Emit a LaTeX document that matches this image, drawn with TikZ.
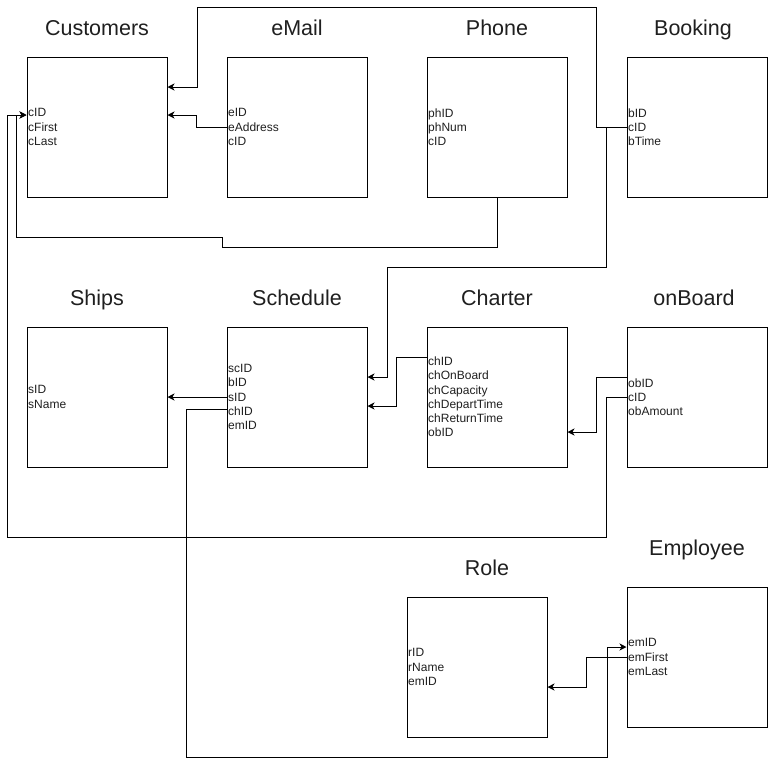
\documentclass[tikz,border=0pt]{standalone}
\usepackage{fontspec}
\setmainfont{Liberation Sans}
\usetikzlibrary{arrows.meta}
\tikzset{
  tbl/.style={draw=black,line width=1pt,minimum width=140pt,minimum height=140pt,inner sep=0pt},
  ttl/.style={font=\fontsize{21.5}{26}\selectfont,text=black!88,inner sep=0pt,text height=15.4pt,text depth=0pt},
  fld/.style={font=\fontsize{12}{14.2}\selectfont,text=black!88,align=left,anchor=west,inner sep=1.5pt},
  lnk/.style={line width=1pt,-{Stealth[length=7pt,width=7pt,inset=2pt]}},
}
\begin{document}
\begin{tikzpicture}[x=1pt,y=-1pt]
\useasboundingbox (0,0) rectangle (768,766);
% tables and titles
\foreach \n/\x/\y/\t/\tx/\ty in {cust/97/127/Customers/97/28, email/297/127/eMail/297/28,
  phone/497/127/Phone/497/28, book/697/127/Booking/693/28,
  ships/97/397/Ships/97/298, sched/297/397/Schedule/297/298,
  charter/497/397/Charter/497/298, onb/697/397/onBoard/694/298,
  role/477/667/Role/487/568, emp/697/657/Employee/697/548}{
  \node[tbl] (\n) at (\x,\y) {};
  \node[ttl] (\n-t) at (\tx,\ty) {\t};
}
% fields
\node[fld] (cust-f) at (cust.west) {cID\\cFirst\\cLast};
\node[fld] (email-f) at (email.west) {eID\\eAddress\\cID};
\node[fld] (phone-f) at (phone.west) {phID\\phNum\\cID};
\node[fld] (book-f) at (book.west) {bID\\cID\\bTime};
\node[fld] (ships-f) at (ships.west) {sID\\sName};
\node[fld] (sched-f) at (sched.west) {scID\\bID\\sID\\chID\\emID};
\node[fld] (charter-f) at (charter.west) {chID\\chOnBoard\\chCapacity\\chDepartTime\\chReturnTime\\obID};
\node[fld] (onb-f) at (onb.west) {obID\\cID\\obAmount};
\node[fld] (role-f) at (role.west) {rID\\rName\\emID};
\node[fld] (emp-f) at (emp.west) {emID\\emFirst\\emLast};
% links
\draw[lnk] (book.west) -- ++(-30,0) |- (197,7) |- ([yshift=40pt]cust.east);
\draw[lnk] (email.west) -- ++(-30,0) |- ([yshift=12pt]cust.east);
\draw[lnk] (phone.south) |- (222,247) -- (222,237) -| ([xshift=-10pt,yshift=12pt]cust.west) -- ([yshift=12pt]cust.west);
\draw[lnk] (onb.west) -- ++(-20,0) |- (7,537) |- ([yshift=12pt]cust.west);
\draw[lnk] ([yshift=20pt]onb.west) -- ++(-30,0) |- ([yshift=-35pt]charter.east);
\draw[lnk] (book.west) -- ++(-20,0) |- (387,267) |- ([yshift=20pt]sched.east);
\draw[lnk] ([yshift=40pt]charter.west) -- ++(-30,0) |- ([yshift=-9pt]sched.east);
\draw[lnk] (sched.west) -- (ships.east);
\draw[lnk] ([yshift=-12pt]sched.west) -- ++(-40,0) |- (607,757) |- ([yshift=10pt]emp.west);
\draw[lnk] (emp.west) -- ++(-40,0) |- ([yshift=-20pt]role.east);
\end{tikzpicture}
\end{document}
